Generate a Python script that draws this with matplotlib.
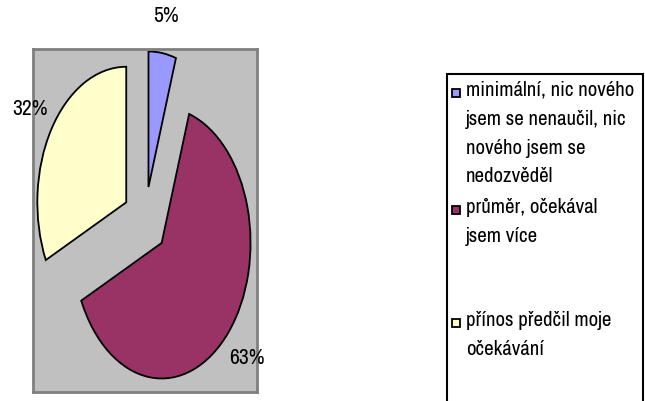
import matplotlib
matplotlib.use("Agg")
import matplotlib.pyplot as plt
from matplotlib.patches import Rectangle

plt.rcParams['font.family'] = ['Archivo Narrow', 'Liberation Sans', 'DejaVu Sans']

# data
labels = ["minimální, nic nového\njsem se nenaučil, nic\nnového jsem se\nnedozvěděl",
          "průměr, očekával\njsem více",
          "přínos předčil moje\nočekávání"]
values = [5, 63, 32]
colors = ["#9999FF", "#993366", "#FFFFCC"]

W, H = 645, 401
fig = plt.figure(figsize=(W / 100, H / 100), dpi=100)

# plot area (gray box), pie squashed like the excel original
ax = fig.add_axes([33 / W, 9 / H, 224 / W, 343 / H])
wedges, texts, pcts = ax.pie(values, colors=colors, startangle=90, counterclock=False,
                             explode=[0.25, 0.25, 0.25], autopct='%1.0f%%', pctdistance=1.28,
                             wedgeprops=dict(edgecolor='black', linewidth=1.3), frame=True,
                             textprops=dict(fontsize=15.5, color='black'))
for t in pcts:
    t.set_clip_on(False)
ax.set_aspect('auto')
ax.set_xlim(-1.26, 1.26)
ax.set_ylim(-1.265, 1.265)
ax.set_xticks([])
ax.set_yticks([])
ax.set_facecolor('#C0C0C0')
for s in ax.spines.values():
    s.set_color('#808080')
    s.set_linewidth(2)

# legend box drawn by hand: excel spreads entries evenly and pins marker to first line
fig.patches.append(Rectangle((447 / W, -0.05), 196 / W, (H - 74) / H + 0.05,
                             transform=fig.transFigure, facecolor='white',
                             edgecolor='black', linewidth=1.5, zorder=0))
tops = [93, 210, 323]
for lab, col, y in zip(labels, colors, tops):
    fig.patches.append(Rectangle((452 / W, (H - y - 4) / H), 8 / W, 8 / H,
                                 transform=fig.transFigure, facecolor=col,
                                 edgecolor='black', linewidth=1.3, zorder=2))
    fig.text(466 / W, (H - y + 12) / H, lab, fontsize=15, va='top', ha='left',
             linespacing=1.65)

fig.savefig("out.png", dpi=100)
